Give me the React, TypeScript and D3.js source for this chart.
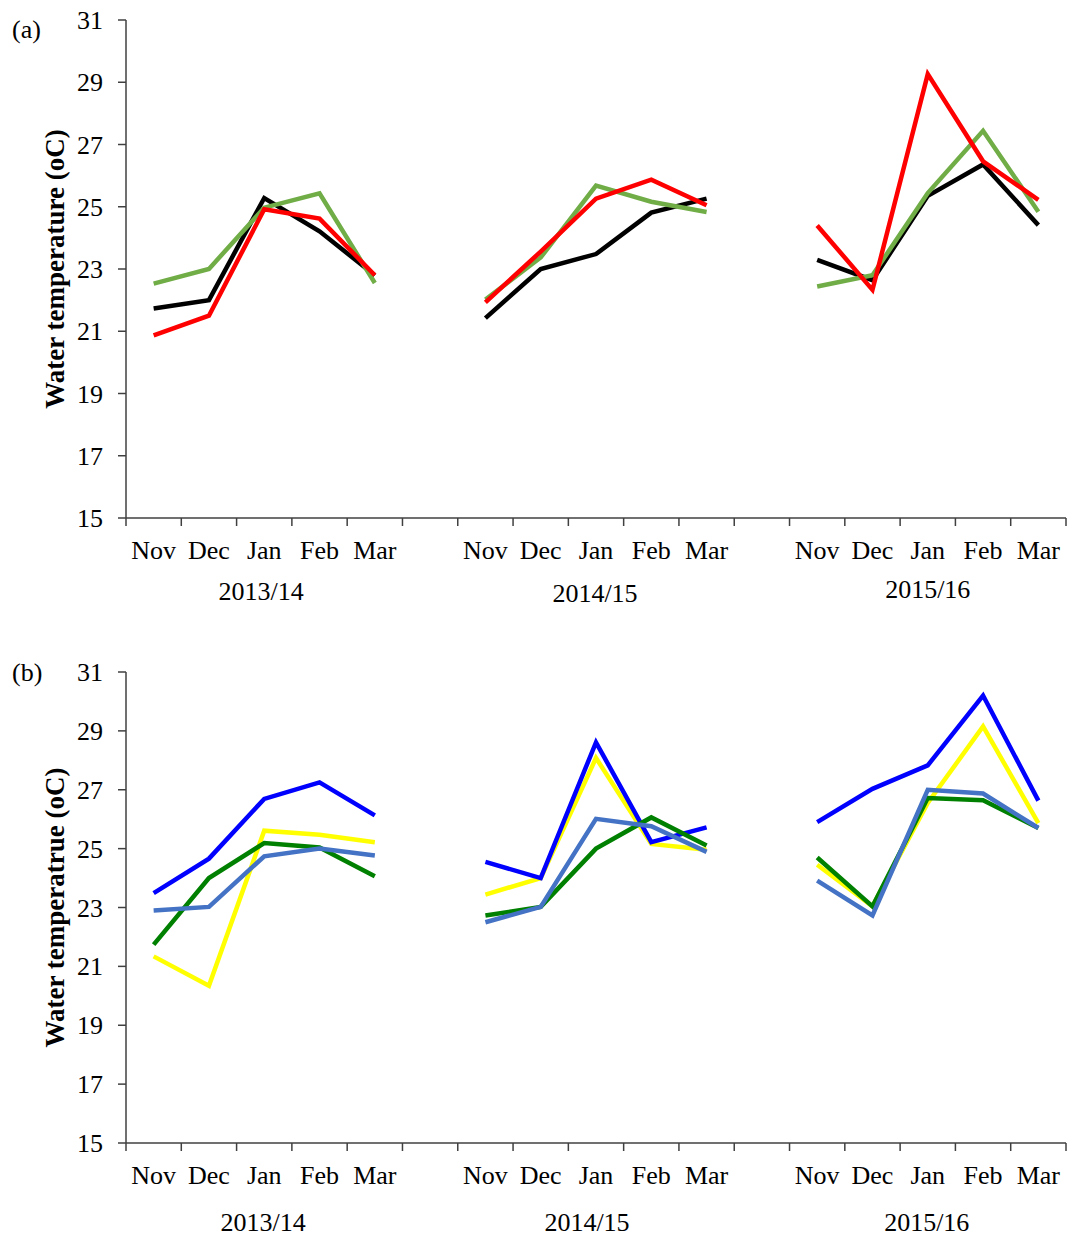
import React from "react";
import * as d3 from "d3";

const months = ["Nov", "Dec", "Jan", "Feb", "Mar"];
const seasons = ["2013/14", "2014/15", "2015/16"];
const yTicks = [15, 17, 19, 21, 23, 25, 27, 29, 31];

// Panel (a) series: one value per month per season (Nov..Mar x 3 seasons)
const aBlack = [21.73, 22.0, 25.28, 24.21, 22.8, 21.42, 23.0, 23.48, 24.81, 25.26, 23.29, 22.64, 25.35, 26.36, 24.41];
const aGreen = [22.53, 23.0, 24.97, 25.43, 22.55, 22.02, 23.37, 25.68, 25.16, 24.83, 22.44, 22.8, 25.44, 27.44, 24.84];
const aRed = [20.87, 21.5, 24.92, 24.62, 22.8, 21.93, 23.56, 25.26, 25.87, 25.05, 24.4, 22.33, 29.26, 26.46, 25.22];

// Panel (b) series
const bYellow = [21.34, 20.34, 25.61, 25.47, 25.22, 23.44, 24.0, 28.08, 25.16, 24.96, 24.45, 23.04, 26.55, 29.15, 25.87];
const bBlue = [23.49, 24.66, 26.69, 27.25, 26.13, 24.55, 24.0, 28.61, 25.22, 25.72, 25.9, 27.03, 27.83, 30.2, 26.63];
const bGreen = [21.74, 24.0, 25.19, 25.04, 24.06, 22.73, 23.02, 25.0, 26.06, 25.11, 24.7, 23.04, 26.72, 26.64, 25.7];
const bLightBlue = [22.9, 23.02, 24.74, 25.0, 24.77, 22.5, 23.02, 26.01, 25.76, 24.89, 23.91, 22.73, 27.0, 26.87, 25.7];

const W = 1071;
const H = 1236;
const X0 = 126;
const X1 = 1066;
const FONT = "'Liberation Serif', 'Times New Roman', serif";
const AXIS = "#404040";

const bandKeys = d3.range(17).map(String);
const x = d3.scaleBand<string>().domain(bandKeys).range([X0, X1]).paddingInner(0).paddingOuter(0);
const bandIndex = (i: number) => Math.floor(i / 5) * 6 + (i % 5);
const cx = (i: number) => (x(String(i)) as number) + x.bandwidth() / 2;

type Series = { values: number[]; color: string };

function Panel(props: {
  top: number;
  bottom: number;
  label: string;
  ylabel: string;
  series: Series[];
  monthY: number;
  yearY: number[];
  yearDx: number[];
  labelY: number;
}) {
  const { top, bottom, label, ylabel, series, monthY, yearY, yearDx, labelY } = props;
  const y = d3.scaleLinear().domain([15, 31]).range([bottom, top]);
  const boundaries = d3.range(18).map((k) => X0 + k * x.bandwidth());
  const ymid = (top + bottom) / 2;
  return (
    <g>
      <text x={12} y={labelY} fontFamily={FONT} fontSize={26}>
        {label}
      </text>
      <text
        transform={`translate(64,${ymid}) rotate(-90)`}
        textAnchor="middle"
        fontFamily={FONT}
        fontSize={27}
        fontWeight="bold"
      >
        {ylabel}
      </text>
      {/* y axis */}
      <line x1={X0} x2={X0} y1={top} y2={bottom} stroke={AXIS} strokeWidth={1.5} />
      {yTicks.map((t) => (
        <g key={t}>
          <line x1={X0 - 8} x2={X0} y1={y(t)} y2={y(t)} stroke={AXIS} strokeWidth={1.5} />
          <text x={103} y={y(t) + 9} textAnchor="end" fontFamily={FONT} fontSize={26}>
            {t}
          </text>
        </g>
      ))}
      {/* x axis */}
      <line x1={X0} x2={X1} y1={bottom} y2={bottom} stroke={AXIS} strokeWidth={1.5} />
      {boundaries.map((bx, k) => (
        <line key={k} x1={bx} x2={bx} y1={bottom} y2={bottom + 8} stroke={AXIS} strokeWidth={1.5} />
      ))}
      {seasons.map((s, g) =>
        months.map((m, mi) => (
          <text
            key={s + m}
            x={cx(g * 6 + mi)}
            y={monthY}
            textAnchor="middle"
            fontFamily={FONT}
            fontSize={26}
          >
            {m}
          </text>
        ))
      )}
      {seasons.map((s, g) => (
        <text key={s} x={cx(g * 6 + 2) + yearDx[g]} y={yearY[g]} textAnchor="middle" fontFamily={FONT} fontSize={26}>
          {s}
        </text>
      ))}
      {series.map((se, si) =>
        seasons.map((s, g) => {
          const pts = se.values.slice(g * 5, g * 5 + 5).map((v, mi) => [cx(bandIndex(g * 5 + mi)), y(v)] as [number, number]);
          const line = d3.line()(pts) as string;
          return (
            <path
              key={si + "-" + g}
              d={line}
              fill="none"
              stroke={se.color}
              strokeWidth={4.5}
              strokeLinejoin="miter"
            />
          );
        })
      )}
    </g>
  );
}

export default function App() {
  return (
    <svg
      width={W}
      height={H}
      style={{ position: "absolute", left: 0, top: 0, background: "#fff" }}
    >
      <rect width={W} height={H} fill="#fff" />
      <Panel
        top={20}
        bottom={518}
        label="(a)"
        ylabel="Water temperature (oC)"
        labelY={38}
        monthY={559}
        yearY={[600, 602, 598]}
        yearDx={[-3, -1, 0]}
        series={[
          { values: aBlack, color: "#000000" },
          { values: aGreen, color: "#70AD47" },
          { values: aRed, color: "#FF0000" },
        ]}
      />
      <Panel
        top={672}
        bottom={1143}
        label="(b)"
        ylabel="Water temperatrue (oC)"
        labelY={681}
        monthY={1184}
        yearY={[1231, 1231, 1231]}
        yearDx={[-1, -9, -1]}
        series={[
          { values: bYellow, color: "#FFFF00" },
          { values: bBlue, color: "#0000FF" },
          { values: bGreen, color: "#008000" },
          { values: bLightBlue, color: "#4472C4" },
        ]}
      />
    </svg>
  );
}
